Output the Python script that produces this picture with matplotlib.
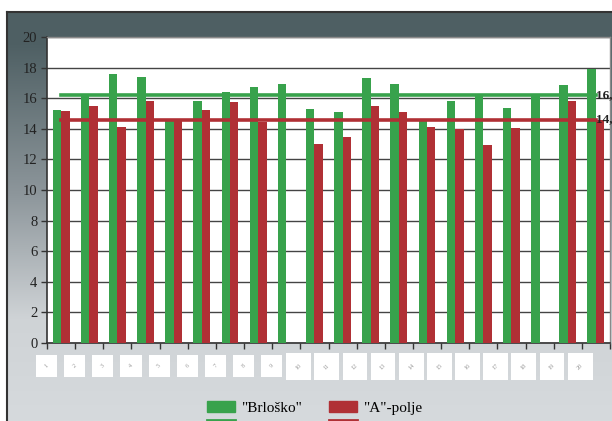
import numpy as np
import matplotlib
matplotlib.use("Agg")
import matplotlib.pyplot as plt
from matplotlib.patches import Rectangle, Patch
from matplotlib.lines import Line2D
from matplotlib.colors import LinearSegmentedColormap
from matplotlib.transforms import blended_transform_factory

plt.rcParams['font.family'] = ['Liberation Serif', 'DejaVu Serif']

# Data
categories = [str(i) for i in range(1, 21)]
brlosko = [15.26, 16.24, 17.57, 17.37, 14.61, 15.80, 16.39, 16.70, 16.91, 15.28,
           15.09, 17.31, 16.91, 14.60, 15.80, 16.24, 15.35, 16.24, 16.85, 17.89]
a_polje = [15.15, 15.48, 14.11, 15.80, 14.65, 15.22, 15.72, 14.46, 0.0, 13.00,
           13.46, 15.48, 15.09, 14.09, 13.98, 12.91, 14.04, 0.0, 15.80, 14.60]
series_names = ['"Brloško"', '"A"-polje']
y_ticks = [0, 2, 4, 6, 8, 10, 12, 14, 16, 18, 20]

GREEN = '#38a24c'
RED = '#b03035'

W, H = 612, 421
fig = plt.figure(figsize=(W / 100, H / 100), dpi=100)
fig.patch.set_facecolor('white')

# Framed background panel with vertical gradient
bg = fig.add_axes([7 / W, 0, 1 - 7 / W + 0.01, 1 - 12 / H], zorder=0)
cmap = LinearSegmentedColormap.from_list(
    'bg', [(0.0, '#4e5f63'), (0.08, '#4f6064'), (0.45, '#8e979c'),
           (0.75, '#cfd3d6'), (1.0, '#d6dadd')])
grad = np.linspace(0, 1, 256).reshape(-1, 1)
bg.imshow(grad, aspect='auto', cmap=cmap, extent=[0, 1, 0, 1], origin='upper')
bg.set_xlim(0, 1)
bg.set_ylim(0, 1)
bg.set_xticks([])
bg.set_yticks([])
for side in ['top', 'right', 'bottom']:
    bg.spines[side].set_visible(False)
bg.spines['left'].set_color('#333333')
bg.spines['left'].set_linewidth(1.5)
bg.add_line(Line2D([0, 1], [1, 1], color='#333333', lw=1.5,
                   transform=bg.transAxes, clip_on=False))

# Main plot area
left, right = 47 / W, 610 / W
bottom, top = (H - 343) / H, (H - 37) / H
ax = fig.add_axes([left, bottom, right - left, top - bottom], zorder=1)
ax.set_facecolor('white')

x = np.arange(len(categories))
bw = 0.3
ax.bar(x - bw / 2, brlosko, width=bw, color=GREEN, zorder=3)
ax.bar(x + bw / 2, a_polje, width=bw, color=RED, zorder=3)

# Averages drawn as horizontal lines
mean_g = round(float(np.mean([v for v in brlosko if v > 0])), 1)
mean_r = round(float(np.mean([v for v in a_polje if v > 0])), 1)
ax.plot([x[0], x[-1]], [mean_g, mean_g], color=GREEN, lw=2.6, zorder=4)
ax.plot([x[0], x[-1]], [mean_r, mean_r], color=RED, lw=2.6, zorder=4)
for m in (mean_g, mean_r):
    ax.text(x[-1] + 0.0, m, f"{m:.1f}".replace('.', ','), fontsize=9.5,
            fontweight='bold', va='center', ha='left', color='#222222',
            clip_on=False, zorder=5)

ax.set_xlim(-0.5, len(categories) - 0.5)
ax.set_ylim(0, 20)
ax.set_yticks(y_ticks)
ax.set_yticklabels([str(t) for t in y_ticks], fontsize=10.5, color='#222222')
ax.yaxis.grid(True, color='#444444', lw=1.0, zorder=1)
ax.tick_params(axis='y', length=4, width=1, color='#333333', pad=3)

ax.set_xticks(np.arange(len(categories) + 1) - 0.5)
ax.set_xticklabels([])
ax.tick_params(axis='x', length=4, width=1, color='#333333')

for s in ['left', 'bottom']:
    ax.spines[s].set_color('#333333')
    ax.spines[s].set_linewidth(1.2)
for s in ['top', 'right']:
    ax.spines[s].set_color('#8a8a8a')
    ax.spines[s].set_linewidth(1.0)

# Small rotated category labels on white boxes
tr = blended_transform_factory(ax.transData, fig.transFigure)
for xi, lab in zip(x, categories):
    if len(lab) == 1:
        x0, x1, ytop, ybot = xi - 0.89, xi - 0.14, 355, 377
    else:
        x0, x1, ytop, ybot = xi - 1.0, xi - 0.12, 353, 380
    y0, y1 = (H - ybot) / H, (H - ytop) / H
    fig.patches.append(Rectangle((x0, y0), x1 - x0, y1 - y0, transform=tr,
                                 facecolor='white', edgecolor='none',
                                 zorder=2))
    fig.text((x0 + x1) / 2, (y0 + y1) / 2, lab, transform=tr, fontsize=4.5,
             color='#999999', rotation=45, ha='center', va='center',
             zorder=3)

# Legend
handles = [Patch(color=GREEN), Line2D([], [], color=GREEN, lw=2),
           Patch(color=RED), Line2D([], [], color=RED, lw=2)]
labels = [series_names[0], '', series_names[1], '']
fig.legend(handles, labels, ncol=2, loc='upper left',
           bbox_to_anchor=(193 / W, 1 - 387 / H), frameon=False, fontsize=11,
           handlelength=1.85, handleheight=0.8, columnspacing=1.75,
           labelspacing=0.0, handletextpad=0.4)

fig.savefig('out.png', dpi=100)
